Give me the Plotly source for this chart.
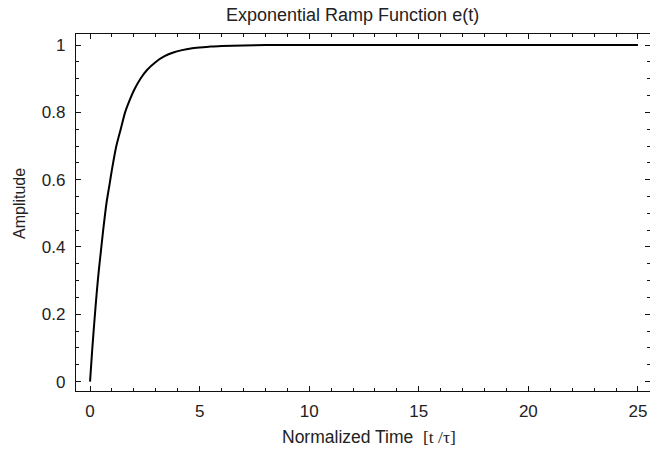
import plotly.graph_objects as go

# Values
t_values = [0, 0.1, 0.2, 0.3, 0.4, 0.5, 0.6, 0.75, 0.9, 1.0, 1.2, 1.4, 1.6, 1.8,
            2.0, 2.3, 2.6, 3.0, 3.4, 3.8, 4.2, 4.6, 5.0, 5.5, 6.0, 7.0, 8.0,
            10.0, 15.0, 20.0, 25.0]
amplitude = [0.0, 0.095, 0.18, 0.26, 0.33, 0.39, 0.45, 0.53, 0.59, 0.63, 0.70,
             0.75, 0.80, 0.835, 0.865, 0.90, 0.926, 0.95, 0.967, 0.978, 0.985,
             0.99, 0.993, 0.996, 0.997, 0.999, 1.0, 1.0, 1.0, 1.0, 1.0]
x_ticks = [0, 5, 10, 15, 20, 25]
y_ticks = [0, 0.2, 0.4, 0.6, 0.8, 1]
y_tick_labels = ["0", "0.2", "0.4", "0.6", "0.8", "1"]

title_text = "Exponential Ramp Function e(t)"
x_title = "Normalized Time"
x_unit = "[t /τ]"
y_title = "Amplitude"

W, H = 650, 451
L, R, T, B = 76, 0, 34, 451 - 391

fig = go.Figure()
fig.add_trace(go.Scatter(x=t_values, y=amplitude, mode="lines", line_shape="spline",
                         line=dict(color="black", width=2, smoothing=0.6),
                         hoverinfo="skip", showlegend=False))

axis_common = dict(
    showgrid=False, zeroline=False, showline=True, linecolor="#111",
    linewidth=1.3, mirror="ticks", ticks="inside", ticklen=5, tickwidth=1,
    tickcolor="#111", tickfont=dict(family="Liberation Sans", size=17, color="#222"),
    ticklabeloverflow="allow",
)

fig.update_xaxes(range=[-0.64, 25.55], tickvals=x_ticks,
                 minor=dict(dtick=1, ticks="inside", ticklen=3, tickcolor="#111"),
                 ticklabelstandoff=4, **axis_common)
fig.update_yaxes(range=[-0.028, 1.033], tickvals=y_ticks, ticktext=y_tick_labels,
                 minor=dict(dtick=0.05, ticks="inside", ticklen=3, tickcolor="#111"),
                 ticklabelstandoff=6, **axis_common)

plot_h = H - T - B
plot_w = W - L - R


def px_to_paper_x(px):
    return (px - L) / plot_w


def px_to_paper_y(py):
    return (H - B - py) / plot_h


fig.update_layout(
    width=W, height=H,
    margin=dict(l=L, r=R, t=T, b=B),
    paper_bgcolor="white", plot_bgcolor="white",
    annotations=[
        dict(text=title_text, x=px_to_paper_x(352), y=px_to_paper_y(15),
             xref="paper", yref="paper", showarrow=False, xanchor="center",
             yanchor="middle", font=dict(family="Liberation Sans", size=18, color="#222")),
        dict(text=x_title + "  <span style='font-family:Liberation Serif'>" + x_unit + "</span>",
             x=px_to_paper_x(369), y=px_to_paper_y(437),
             xref="paper", yref="paper", showarrow=False, xanchor="center",
             yanchor="middle", font=dict(family="Liberation Sans", size=17.5, color="#222")),
        dict(text=y_title, x=px_to_paper_x(19), y=px_to_paper_y(204),
             xref="paper", yref="paper", showarrow=False, xanchor="center",
             yanchor="middle", textangle=-90,
             font=dict(family="Liberation Sans", size=16, color="#222")),
    ],
)

# Remove the default page margin so the 650x451 figure fills the window exactly
fig.write_html("out.html",
               config={"displayModeBar": False},
               post_script="document.body.style.margin='0';"
                           "document.body.style.overflow='hidden';")
